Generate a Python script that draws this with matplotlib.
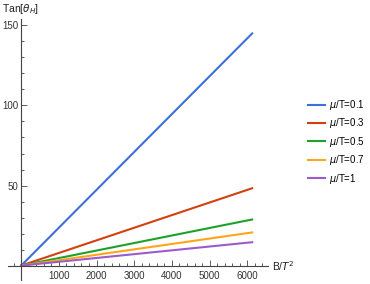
import matplotlib
matplotlib.use("Agg")
import matplotlib.pyplot as plt
from matplotlib.ticker import MultipleLocator

# chemical potential ratios and end point of each line (B/T^2 ~ 6130)
mu_labels = ["0.1", "0.3", "0.5", "0.7", "1"]
b_max = 6130
tan_end = [145.0, 48.3, 28.8, 20.7, 14.6]
colors = ["#3f6fd8", "#d2400f", "#1ca22c", "#ffa51a", "#9b5bcb"]

plt.rcParams["font.family"] = ["Liberation Sans", "DejaVu Sans"]
plt.rcParams["mathtext.fontset"] = "dejavusans"

fig = plt.figure(figsize=(3.7, 2.84), dpi=100)
ax = fig.add_axes([8 / 370, 4 / 284, 260 / 370, 261 / 284])

for lab, end, c in zip(mu_labels, tan_end, colors):
    ax.plot([0, b_max], [0, end], color=c, lw=1.5, label=r"$\mu$/T=" + lab)

ax.set_xlim(-350, 6550)
ax.set_ylim(-9, 154)

axis_col = "#444444"
for s in ["top", "right"]:
    ax.spines[s].set_visible(False)
ax.spines["left"].set_position(("data", 0))
ax.spines["bottom"].set_position(("data", 0))
for s in ["left", "bottom"]:
    ax.spines[s].set_color(axis_col)
    ax.spines[s].set_linewidth(0.8)

ax.xaxis.set_major_locator(MultipleLocator(1000))
ax.xaxis.set_minor_locator(MultipleLocator(200))
ax.yaxis.set_major_locator(MultipleLocator(50))
ax.yaxis.set_minor_locator(MultipleLocator(10))
ax.tick_params(which="both", direction="in", color=axis_col, width=0.6,
               labelsize=7, labelcolor="#333333")
ax.tick_params(which="major", length=4)
ax.tick_params(which="minor", length=2)
ax.tick_params(axis="x", pad=4)
ax.tick_params(axis="y", pad=2)
ax.set_xticks([1000, 2000, 3000, 4000, 5000, 6000])
ax.set_yticks([50, 100, 150])

fig.text(2 / 370, 1 - 12 / 284, r"Tan[$\theta_H$]", fontsize=7.5, color="#222222")
fig.text(272 / 370, 1 - 266 / 284, r"B/$T^2$", fontsize=7.5, color="#222222", va="center")

ax.legend(loc="upper left", bbox_to_anchor=(308 / 370, 1 - 98 / 284),
          bbox_transform=fig.transFigure, frameon=False, fontsize=7,
          handlelength=1.7, handletextpad=0.5, labelspacing=0.45,
          borderaxespad=0, borderpad=0)

fig.savefig("out.png", dpi=100, facecolor="white")
